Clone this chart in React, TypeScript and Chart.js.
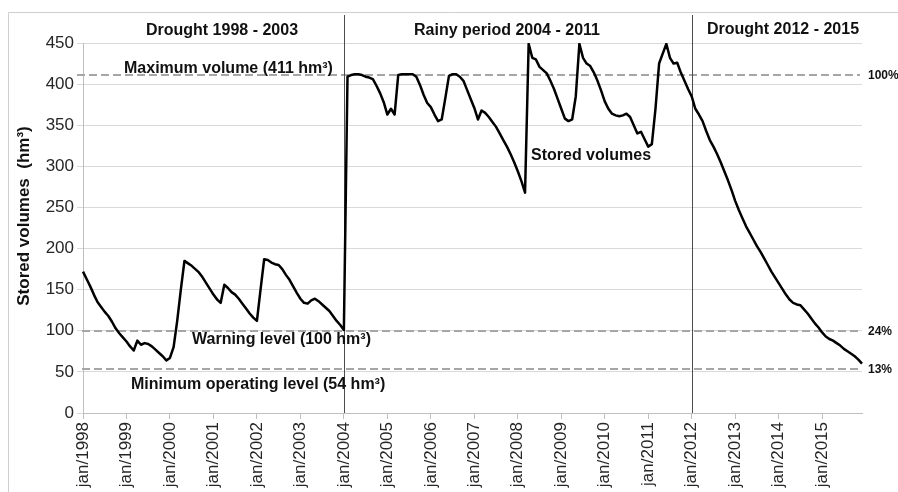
import React, { useEffect, useRef } from 'react';
import { Chart, registerables } from 'chart.js';

Chart.register(...registerables);

// ---------- data ----------
const YEARS = [1998, 1999, 2000, 2001, 2002, 2003, 2004, 2005, 2006, 2007, 2008, 2009, 2010, 2011, 2012, 2013, 2014, 2015];
const MONTHS = ['jan', 'feb', 'mar', 'apr', 'may', 'jun', 'jul', 'aug', 'sep', 'oct', 'nov', 'dec'];
const CATEGORIES = YEARS.flatMap((y) => MONTHS.map((m) => `${m}/${y}`));

const VOLUMES_1998_2003 = [
  172, 163, 154, 144, 135, 129, 123, 118, 111, 103, 97, 92,
  87, 81, 76, 88, 83, 85, 84, 81, 77, 73, 69, 64,
  67, 80, 112, 150, 185, 182, 179, 175, 171, 165, 158, 151,
  144, 138, 134, 156, 152, 147, 144, 139, 133, 127, 121, 116,
  112, 150, 187, 186, 183, 181, 180, 175, 168, 162, 154, 146,
  139, 134, 133, 137, 139, 136, 132, 128, 124, 118, 112, 107,
];
const VOLUMES_2004_2011 = [
  101, 409, 411, 412, 412, 411, 409, 408, 406, 398, 389, 378,
  363, 370, 363, 411, 412, 412, 412, 412, 409, 399, 387, 377,
  372, 363, 355, 357, 383, 410, 412, 412, 409, 404, 393, 382,
  371, 357, 368, 365, 360, 354, 348, 340, 332, 324, 315, 305,
  294, 282, 268, 449, 432, 430, 421, 417, 413, 404, 394, 382,
  370, 358, 355, 357, 385, 449, 432, 425, 422, 414, 404, 392,
  379, 370, 364, 362, 361, 362, 364, 360, 350, 340, 342, 333,
  324, 327, 370, 425, 437, 449, 432, 425, 426, 414, 404, 394,
];
const VOLUMES_2012_2015 = [
  385, 370, 363, 355, 343, 332, 324, 315, 305, 294, 283, 271,
  258, 247, 237, 227, 219, 211, 203, 196, 188, 180, 172, 165,
  158, 151, 144, 138, 134, 132, 131, 126, 121, 115, 109, 104,
  98, 93, 90, 88, 85, 82, 78, 75, 72, 69, 65, 60,
];
const STORED_VOLUMES = [...VOLUMES_1998_2003, ...VOLUMES_2004_2011, ...VOLUMES_2012_2015];

const MAX_VOLUME = 411;
const WARNING_LEVEL = 100;
const MIN_OPERATING_LEVEL = 54;
const REFERENCE_LEVELS = [MAX_VOLUME, WARNING_LEVEL, MIN_OPERATING_LEVEL];
const REFERENCE_PERCENTS = ['100%', '24%', '13%'];
const PERIOD_BOUNDARIES = ['jan/2004', 'jan/2012'];
const PERIOD_TITLES = ['Drought 1998 - 2003', 'Rainy period 2004 - 2011', 'Drought 2012 - 2015'];
const LEVEL_LABELS = ['Maximum volume (411 hm³)', 'Warning level (100 hm³)', 'Minimum operating level (54 hm³)'];
const SERIES_LABEL = 'Stored volumes';
const Y_TITLE = 'Stored volumes  (hm³)';

const FONT = '"Liberation Sans", Arial, sans-serif';

const annotatePlugin = {
  id: 'annotate',
  beforeDatasetsDraw(chart: any) {
    const { ctx, chartArea, scales } = chart;
    const x = scales.x;
    const y = scales.y;
    ctx.save();
    // outer frame (top / left)
    ctx.strokeStyle = '#cfcfcf';
    ctx.lineWidth = 1;
    ctx.beginPath();
    ctx.moveTo(8.5, 492);
    ctx.lineTo(8.5, 12.5);
    ctx.lineTo(898, 12.5);
    ctx.stroke();
    // reference dashed lines
    ctx.setLineDash([8, 4]);
    ctx.strokeStyle = '#a6a6a6';
    ctx.lineWidth = 2;
    REFERENCE_LEVELS.forEach((v, i) => {
      const py = Math.round(y.getPixelForValue(v));
      ctx.beginPath();
      ctx.moveTo(i === 0 ? 77 : 82, py);
      ctx.lineTo(chartArea.right - 2, py);
      ctx.stroke();
    });
    // period boundaries
    ctx.setLineDash([]);
    ctx.strokeStyle = '#4d4d4d';
    ctx.lineWidth = 1;
    PERIOD_BOUNDARIES.forEach((lab) => {
      const px = Math.round(x.getPixelForValue(CATEGORIES.indexOf(lab))) + 0.5;
      ctx.beginPath();
      ctx.moveTo(px, 15);
      ctx.lineTo(px, chartArea.bottom);
      ctx.stroke();
    });
    ctx.restore();
  },
  afterDraw(chart: any) {
    const { ctx, scales } = chart;
    const y = scales.y;
    ctx.save();
    ctx.fillStyle = '#111';
    ctx.textBaseline = 'alphabetic';
    ctx.font = `bold 16px ${FONT}`;
    ctx.textAlign = 'center';
    ctx.fillText(PERIOD_TITLES[0], 222, 35);
    ctx.fillText(PERIOD_TITLES[1], 507, 35);
    ctx.fillText(PERIOD_TITLES[2], 783, 34);

    ctx.textAlign = 'left';
    ctx.fillText(LEVEL_LABELS[0], 124, y.getPixelForValue(MAX_VOLUME) - 2);
    ctx.fillText(LEVEL_LABELS[1], 192, y.getPixelForValue(WARNING_LEVEL) + 13);
    ctx.fillText(LEVEL_LABELS[2], 131, y.getPixelForValue(MIN_OPERATING_LEVEL) + 20);
    ctx.fillText(SERIES_LABEL, 531, 160);

    ctx.font = `bold 12px ${FONT}`;
    ctx.textBaseline = 'middle';
    REFERENCE_PERCENTS.forEach((t, i) => {
      ctx.fillText(t, 868, y.getPixelForValue(REFERENCE_LEVELS[i]) + 1);
    });

    // y-axis title
    ctx.font = `bold 17px ${FONT}`;
    ctx.textAlign = 'center';
    ctx.textBaseline = 'middle';
    ctx.translate(24, 216);
    ctx.rotate(-Math.PI / 2);
    ctx.fillText(Y_TITLE, 0, 0);
    ctx.restore();
  },
};

export default function App() {
  const canvasRef = useRef<HTMLCanvasElement | null>(null);

  useEffect(() => {
    if (!canvasRef.current) return;
    const chart = new Chart(canvasRef.current, {
      type: 'line',
      data: {
        labels: CATEGORIES,
        datasets: [
          {
            label: SERIES_LABEL,
            data: STORED_VOLUMES,
            borderColor: '#000',
            borderWidth: 2.5,
            pointRadius: 0,
            tension: 0,
            borderJoinStyle: 'round',
            fill: false,
          },
        ],
      },
      options: {
        animation: false,
        responsive: true,
        maintainAspectRatio: false,
        layout: { padding: { left: 0, right: 36, top: 43, bottom: 0 } },
        plugins: { legend: { display: false }, tooltip: { enabled: false } },
        scales: {
          x: {
            type: 'category',
            offset: false,
            afterFit: (scale: any) => {
              scale.height = 79;
            },
            grid: { drawOnChartArea: false, tickLength: 6, color: '#bfbfbf' },
            border: { color: '#bfbfbf' },
            ticks: {
              autoSkip: false,
              maxRotation: 90,
              minRotation: 90,
              padding: 3,
              color: '#262626',
              font: { family: FONT, size: 17 },
              callback: (_v: any, idx: number) => (idx % 12 === 0 ? CATEGORIES[idx] : null),
            },
          },
          y: {
            min: 0,
            max: 450,
            afterFit: (scale: any) => {
              scale.width = 83;
            },
            grid: { color: '#d9d9d9', tickLength: 6 },
            border: { color: '#bfbfbf' },
            ticks: {
              stepSize: 50,
              padding: 3,
              color: '#262626',
              font: { family: FONT, size: 17 },
            },
          },
        },
      },
      plugins: [annotatePlugin],
    });
    return () => chart.destroy();
  }, []);

  return (
    <div style={{ position: 'absolute', left: 0, top: 0, width: 898, height: 492, background: '#fff' }}>
      <canvas ref={canvasRef} />
    </div>
  );
}
